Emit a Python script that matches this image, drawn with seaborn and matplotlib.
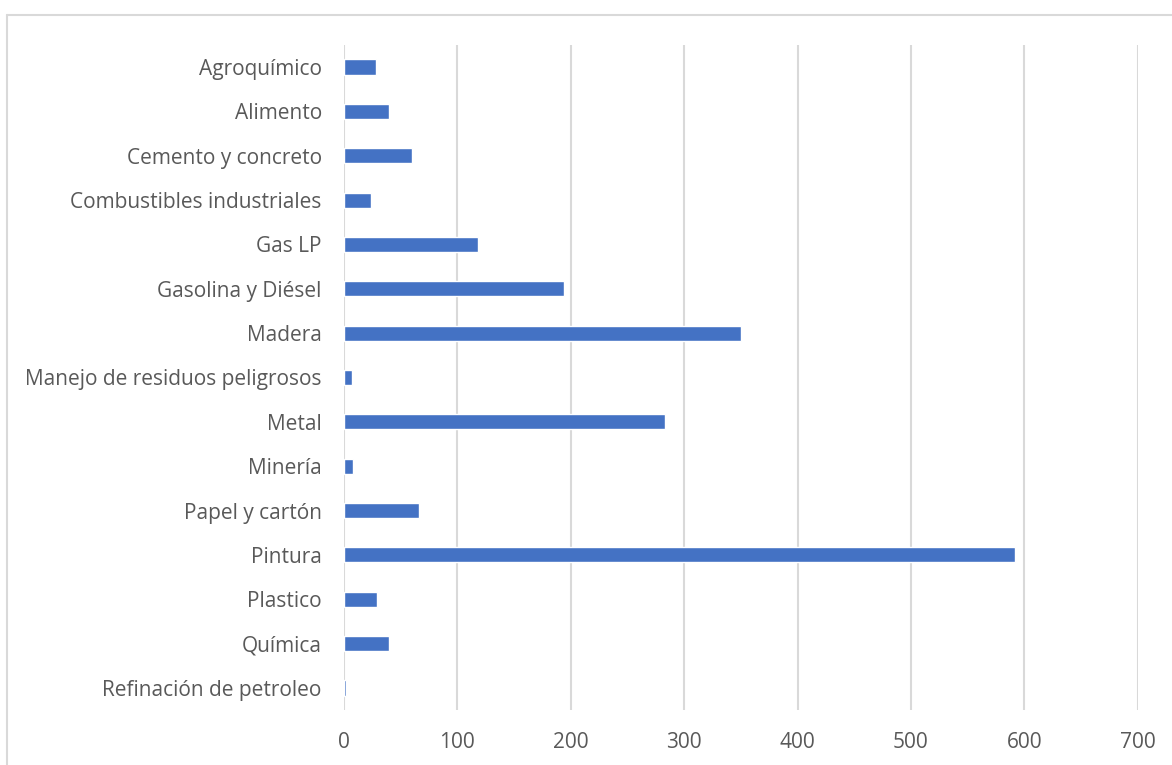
import matplotlib
matplotlib.use("Agg")
import matplotlib.pyplot as plt
import seaborn as sns
import pandas as pd
from matplotlib.lines import Line2D

categories = ["Agroquímico", "Alimento", "Cemento y concreto", "Combustibles industriales",
              "Gas LP", "Gasolina y Diésel", "Madera", "Manejo de residuos peligrosos",
              "Metal", "Minería", "Papel y cartón", "Pintura", "Plastico", "Química",
              "Refinación de petroleo"]
values = [28, 40, 60, 24, 118, 194, 350, 7, 283, 8, 66, 592, 29, 40, 2]
x_ticks = [0, 100, 200, 300, 400, 500, 600, 700]

df = pd.DataFrame({"categoria": categories, "valor": values})

sns.set_theme(style="white")
plt.rcParams['font.family'] = ['Open Sans', 'DejaVu Sans']

W, H = 1172, 765
fig = plt.figure(figsize=(W / 100, H / 100), dpi=100)
left, right, top, bottom = 344, 1137.7, 44.8, 710.2
ax = fig.add_axes([left / W, 1 - bottom / H, (right - left) / W, (bottom - top) / H])

sns.barplot(data=df, x="valor", y="categoria", orient="h", color="#4472C4",
            width=0.34, saturation=1, ax=ax, zorder=3)

ax.set_xlim(0, 700)
ax.set_ylim(len(categories) - 0.5, -0.5)
ax.set_xticks(x_ticks)
ax.set_xticklabels([str(t) for t in x_ticks])
ax.set_xlabel("")
ax.set_ylabel("")
for s in ax.spines.values():
    s.set_visible(False)
ax.grid(axis="x", color="#d9d9d9", linewidth=1.5, zorder=0)
ax.grid(axis="y", visible=False)
ax.set_axisbelow(True)
ax.tick_params(axis="both", length=0, labelsize=15, labelcolor="#595959")
ax.tick_params(axis="y", pad=16)
ax.tick_params(axis="x", pad=16)

# outer chart border (top and left visible)
fig.add_artist(Line2D([7 / W, 7 / W], [0, 1 - 15 / H], color="#d9d9d9", linewidth=1.5))
fig.add_artist(Line2D([7 / W, 1], [1 - 15 / H, 1 - 15 / H], color="#d9d9d9", linewidth=1.5))

fig.savefig("out.png", dpi=100, facecolor="white")
